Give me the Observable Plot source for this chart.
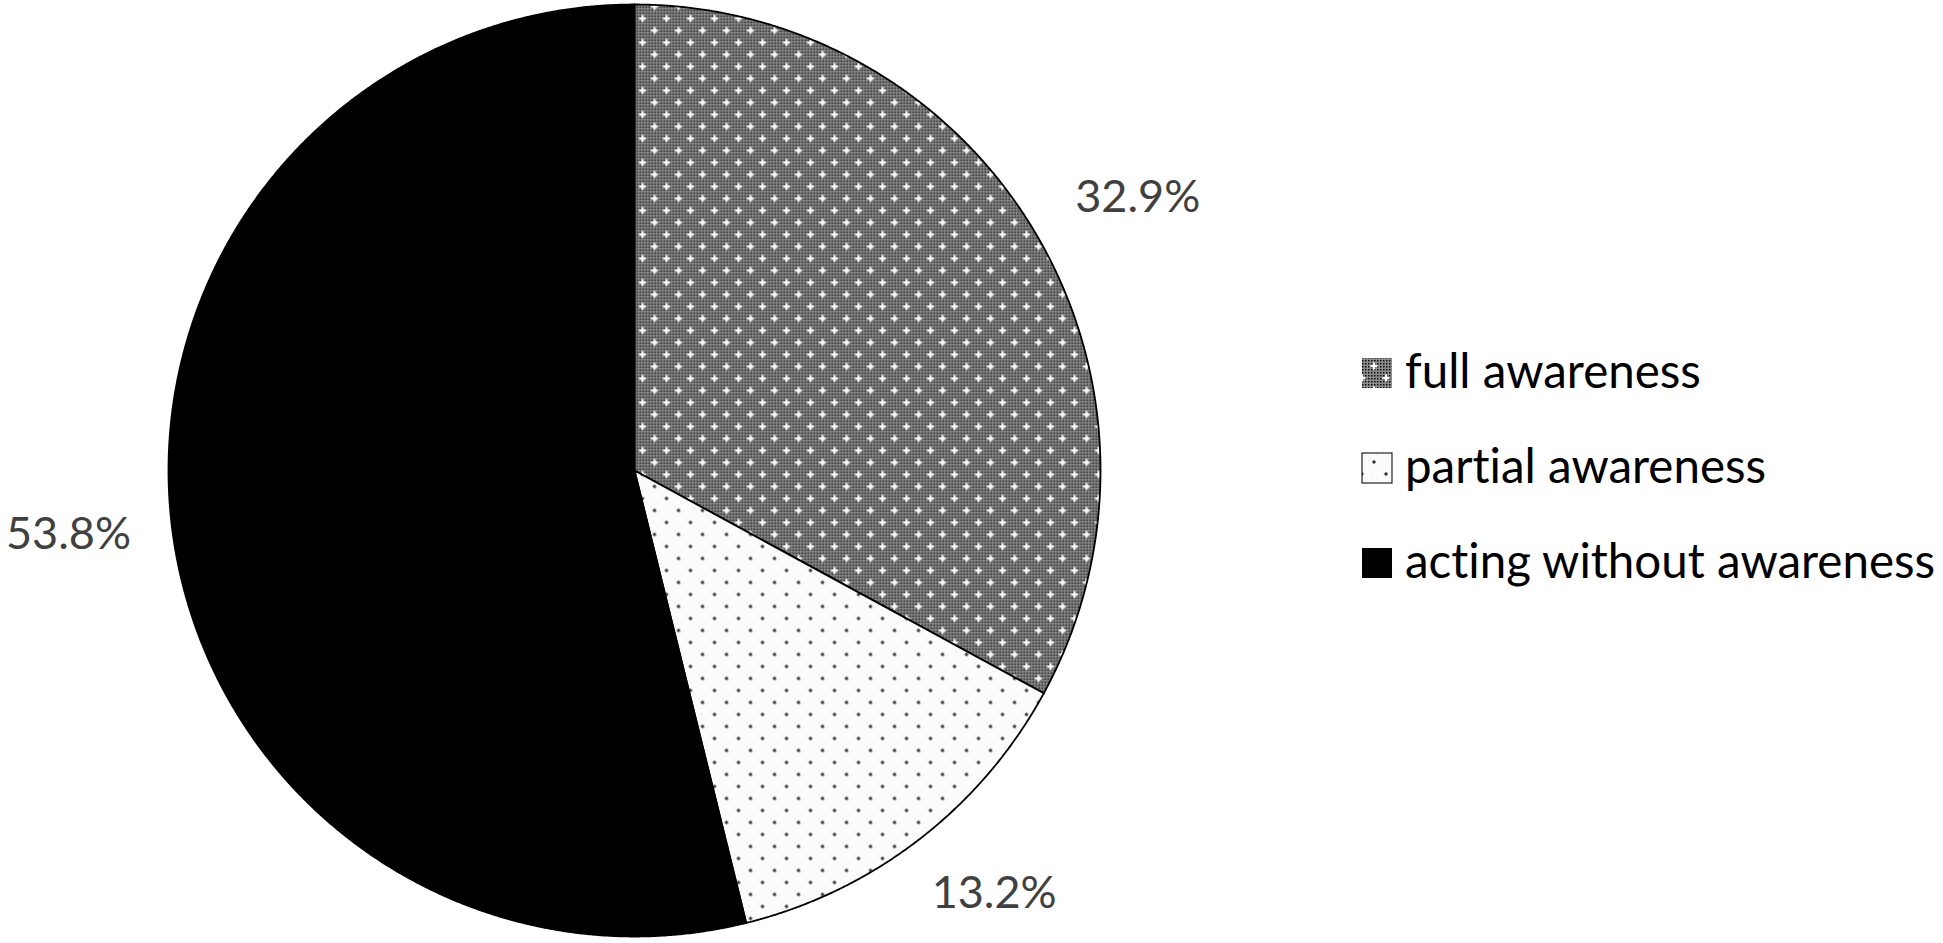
<!DOCTYPE html>
<html>
<head>
<meta charset="utf-8">
<script src="https://cdn.jsdelivr.net/npm/d3@7"></script>
<script src="https://cdn.jsdelivr.net/npm/@observablehq/plot@0.6"></script>
<style>
  body { margin: 0; background: #fff; }
  #wrap { position: relative; width: 1943px; height: 943px; overflow: hidden; background: #fff; }
  #wrap svg { position: absolute; left: 0; top: 0; }
  #wrap text { font-variant-ligatures: none; font-feature-settings: "liga" 0, "clig" 0; }
</style>
</head>
<body>
<svg width="0" height="0" style="position:absolute">
  <defs>
    <pattern id="checker" width="3" height="3" patternUnits="userSpaceOnUse">
      <rect width="3" height="3" fill="#8e8e8e"/>
      <rect width="1.5" height="1.5" fill="#0a0a0a"/>
    </pattern>
    <pattern id="patFull" width="24" height="24" patternUnits="userSpaceOnUse">
      <rect width="24" height="24" fill="url(#checker)"/>
      <path d="M6 2.5v7M2.5 6h7M18 14.5v7M14.5 18h7" stroke="#fff" stroke-width="2"/>
      <circle cx="6" cy="6" r="1.8" fill="#fff"/>
      <circle cx="18" cy="18" r="1.8" fill="#fff"/>
    </pattern>
    <pattern id="patPartial" width="24" height="24" patternUnits="userSpaceOnUse">
      <rect width="24" height="24" fill="#fbfbfb"/>
      <path d="M2 2h1v1h-1zM10 6h1v1h-1zM20 3h1v1h-1zM14 14h1v1h-1zM4 17h1v1h-1zM21 21h1v1h-1zM8 22h1v1h-1zM17 9h1v1h-1z" fill="#dcdcdc"/>
      <path d="M6 4v4M4 6h4M18 16v4M16 18h4" stroke="#555" stroke-width="1"/>
      <circle cx="6" cy="6" r="1.4" fill="#333"/>
      <circle cx="18" cy="18" r="1.4" fill="#333"/>
    </pattern>
  </defs>
</svg>
<div id="wrap"></div>
<script>
// ---- data ----
const categories = ["full awareness", "partial awareness", "acting without awareness"];
const values = [32.9, 13.2, 53.8];
const labels = ["32.9%", "13.2%", "53.8%"];
const fills = ["url(#patFull)", "url(#patPartial)", "#000000"];

// ---- layout constants ----
const W = 1943, H = 943;
const cx = 634, cy = 470, R = 466;

const arcs = d3.pie().sort(null).value(d => d)(values);

// polygon points for each slice in unit-radius data space (y up)
const poly = [];
arcs.forEach((a, i) => {
  const cat = categories[i];
  poly.push({category: cat, x: 0, y: 0});
  const n = Math.max(2, Math.ceil((a.endAngle - a.startAngle) / 0.004));
  for (let k = 0; k <= n; ++k) {
    const t = a.startAngle + (a.endAngle - a.startAngle) * k / n;
    poly.push({category: cat, x: Math.sin(t), y: Math.cos(t)});
  }
});

// label positions: outside end, offset by half the label box
const hw = 60 / R, hh = 17 / R, lr = 1.11;
const labelData = arcs.map((a, i) => {
  const m = (a.startAngle + a.endAngle) / 2;
  const dx = Math.sin(m), dy = Math.cos(m);
  return {text: labels[i], x: dx * lr + dx * hw, y: dy * lr + dy * hh};
});

const chart = Plot.plot({
  width: W,
  height: H,
  margin: 0,
  style: {background: "transparent"},
  x: {domain: [-cx / R, (W - cx) / R], axis: null},
  y: {domain: [-(H - cy) / R, cy / R], axis: null},
  color: {domain: categories, range: fills},
  marks: [
    Plot.line(poly, {
      x: "x", y: "y", z: "category", fill: "category",
      stroke: "#000", strokeWidth: 1.8, curve: "linear-closed"
    }),
    Plot.text(labelData, {
      x: "x", y: "y", text: "text", dx: 7,
      fontSize: 45, fill: "#404040", fontFamily: "Lato"
    })
  ]
});
document.getElementById("wrap").appendChild(chart);

// ---- legend ----
const lg = d3.select("#wrap").append("svg")
  .attr("width", W).attr("height", H)
  .style("pointer-events", "none");
const baselines = [388, 483, 578];
categories.forEach((c, i) => {
  lg.append("rect")
    .attr("x", 1362).attr("y", baselines[i] - 30)
    .attr("width", 30).attr("height", 30)
    .attr("fill", fills[i])
    .attr("stroke", i === 1 ? "#222" : "none")
    .attr("stroke-width", 1.2);
  lg.append("text")
    .attr("x", 1405).attr("y", baselines[i])
    .attr("font-family", "Lato").attr("font-size", 47.5)
    .attr("fill", "#000")
    .text(c);
});
</script>
</body>
</html>
